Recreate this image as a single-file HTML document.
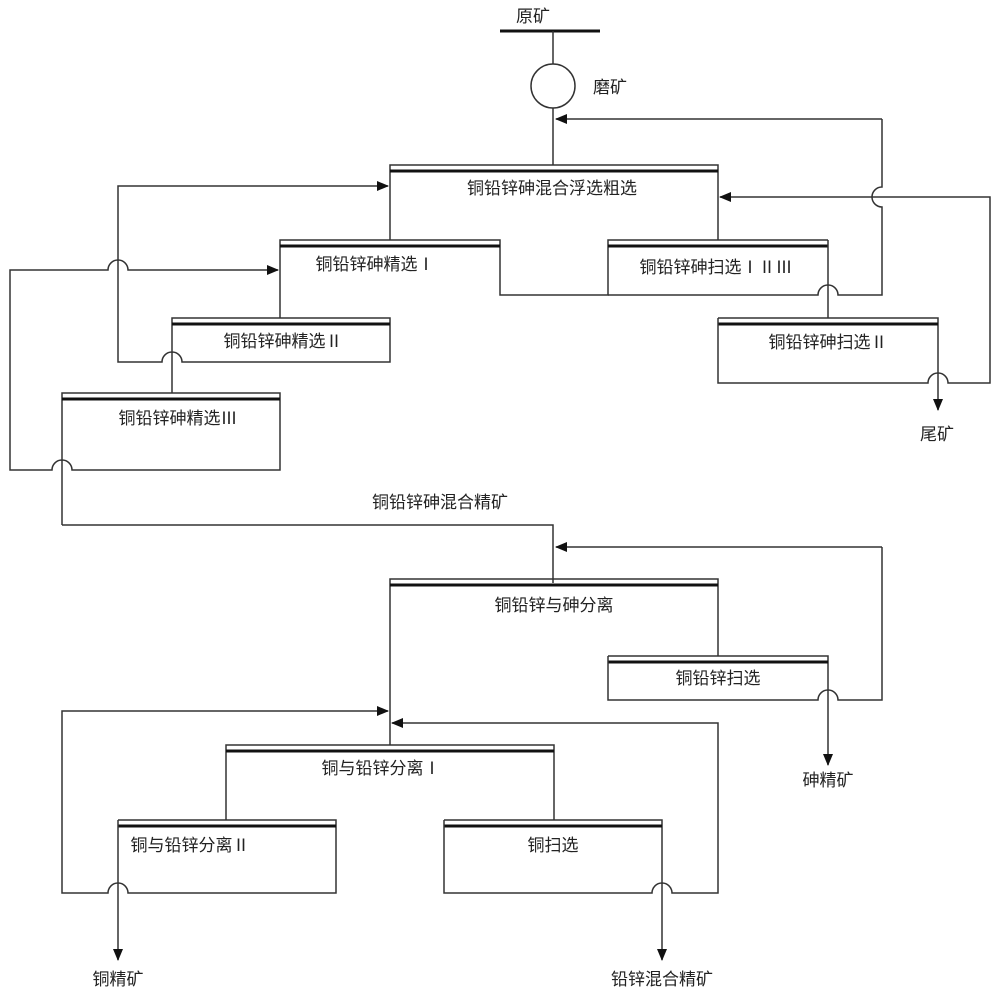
<!DOCTYPE html>
<html><head><meta charset="utf-8"><style>
body{margin:0;background:#fff}
text{font-family:"Liberation Sans","Noto Sans CJK SC",sans-serif;font-size:17px;fill:#222}
</style></head><body>
<svg width="1000" height="996" viewBox="0 0 1000 996" xmlns="http://www.w3.org/2000/svg">
<defs><marker id="a" markerWidth="12" markerHeight="10" refX="11" refY="5" orient="auto" markerUnits="userSpaceOnUse"><path d="M0,0 L12,5 L0,10 Z" fill="#111"/></marker></defs>
<g fill="none" stroke="#333" stroke-width="1.5">
<line x1="500" y1="31" x2="600" y2="31" stroke-width="3" stroke="#111"/>
<line x1="553" y1="31" x2="553" y2="64"/>
<circle cx="553" cy="86" r="22"/>
<line x1="553" y1="108" x2="553" y2="165"/>
<polyline points="882,119 556,119" marker-end="url(#a)"/>
<path d="M390,240 V165 H718 V240"/>
<line x1="390" y1="171" x2="718" y2="171" stroke-width="3" stroke="#111"/>
<path d="M280,318 V240 H500 V295 H608 V240 H828"/>
<line x1="280" y1="246" x2="500" y2="246" stroke-width="3" stroke="#111"/>
<line x1="608" y1="246" x2="828" y2="246" stroke-width="3" stroke="#111"/>
<path d="M172,393 V318 H390 V362 H182 A10,10 0 0 0 162,362 H118 V186 H388" marker-end="url(#a)"/>
<line x1="172" y1="324" x2="390" y2="324" stroke-width="3" stroke="#111"/>
<path d="M62,525 V393 H280 V470 H72 A10,10 0 0 0 52,470 H10 V270 H108 A10,10 0 0 1 128,270 H278" marker-end="url(#a)"/>
<line x1="62" y1="399" x2="280" y2="399" stroke-width="3" stroke="#111"/>
<path d="M828,240 V318"/>
<path d="M608,295 H818 A10,10 0 0 1 838,295 H882 V207 A10,10 0 0 1 882,187 V119"/>
<path d="M718,318 H938 V410" marker-end="url(#a)"/>
<line x1="718" y1="324" x2="938" y2="324" stroke-width="3" stroke="#111"/>
<path d="M718,318 V383 H928 A10,10 0 0 1 948,383 H990 V197 H720" marker-end="url(#a)"/>
<path d="M62,525 H553 V583"/>
<polyline points="882,547 556,547" marker-end="url(#a)"/>
<path d="M390,745 V579 H718 V656"/>
<line x1="390" y1="585" x2="718" y2="585" stroke-width="3" stroke="#111"/>
<path d="M608,656 H828 V765" marker-end="url(#a)"/>
<line x1="608" y1="662" x2="828" y2="662" stroke-width="3" stroke="#111"/>
<path d="M608,656 V700 H818 A10,10 0 0 1 838,700 H882 V547"/>
<path d="M226,820 V745 H554 V820"/>
<line x1="226" y1="751" x2="554" y2="751" stroke-width="3" stroke="#111"/>
<path d="M118,820 H336 V893 H128 A10,10 0 0 0 108,893 H62 V711 H388" marker-end="url(#a)"/>
<line x1="118" y1="826" x2="336" y2="826" stroke-width="3" stroke="#111"/>
<path d="M118,820 V960" marker-end="url(#a)"/>
<path d="M444,820 H662 V960" marker-end="url(#a)"/>
<line x1="444" y1="826" x2="662" y2="826" stroke-width="3" stroke="#111"/>
<path d="M444,820 V893 H652 A10,10 0 0 1 672,893 H718 V723 H392" marker-end="url(#a)"/>
</g>
<g text-anchor="middle">
<text x="533" y="22">原矿</text>
<text x="610" y="93">磨矿</text>
<text x="552" y="194">铜铅锌砷混合浮选粗选</text>
<text x="375" y="270">铜铅锌砷精选Ⅰ</text>
<text x="716" y="273">铜铅锌砷扫选ⅠⅡⅢ</text>
<text x="283" y="347">铜铅锌砷精选Ⅱ</text>
<text x="828" y="348">铜铅锌砷扫选Ⅱ</text>
<text x="178" y="424">铜铅锌砷精选Ⅲ</text>
<text x="937" y="440">尾矿</text>
<text x="440" y="508">铜铅锌砷混合精矿</text>
<text x="554" y="611">铜铅锌与砷分离</text>
<text x="718" y="684">铜铅锌扫选</text>
<text x="828" y="786">砷精矿</text>
<text x="381" y="774">铜与铅锌分离Ⅰ</text>
<text x="190" y="851">铜与铅锌分离Ⅱ</text>
<text x="553" y="851">铜扫选</text>
<text x="118" y="985">铜精矿</text>
<text x="662" y="985">铅锌混合精矿</text>
</g>
</svg>
</body></html>
